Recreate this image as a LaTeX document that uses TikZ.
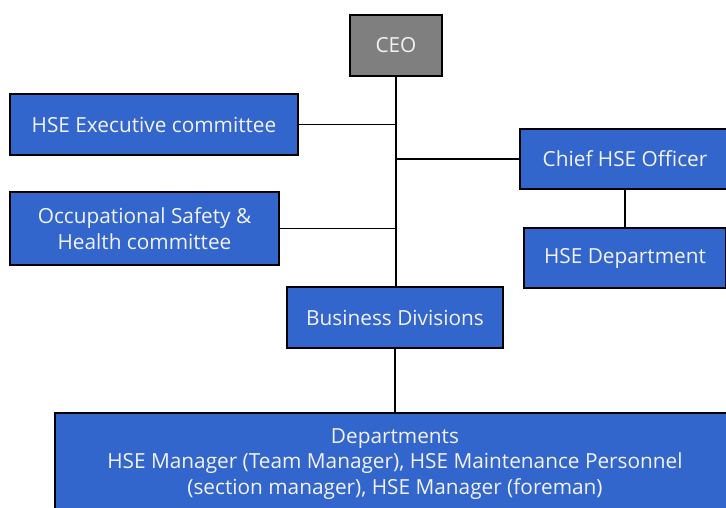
\documentclass[tikz,border=0pt]{standalone}
\usepackage{fontspec}
\setmainfont{Open Sans}
\definecolor{bleu}{HTML}{3366CC}
\definecolor{gris}{HTML}{7F7F7F}
\tikzset{cadre/.style = {draw = black, line width = 1.5pt, fill = bleu, text = white!95!black,
                         minimum width = #1, minimum height = 61pt, align = center,
                         inner sep = 0pt, font = \fontsize{20.8}{25.5}\selectfont},
         cadre/.default = 100pt,
         lien/.style = {line width = 1.2pt}
        }

\begin{document}
\begin{tikzpicture}[x = 1pt, y = -1pt]
  \useasboundingbox (0,0) rectangle (726,507);
  \node[cadre = 92pt, fill = gris] (ceo) at (396,45.5) {CEO};
  \node[cadre = 288pt] (exec) at (154,124.5) {HSE Executive committee};
  \node[cadre = 269pt, minimum height = 73pt] (osh) at (144.5,228.5)
       {Occupational Safety \&\\Health committee};
  \node[cadre = 210pt, minimum height = 60pt] (chief) at (625,159) {Chief HSE Officer};
  \node[cadre = 202pt, minimum height = 60pt] (dept) at (625,258) {HSE Department};
  \node[cadre = 216pt] (biz) at (395,317.5) {Business Divisions};
  \node[cadre = 680pt, minimum height = 102pt] (depts) at (395,464)
       {Departments\\HSE Manager (Team Manager), HSE Maintenance Personnel\\(section manager), HSE Manager (foreman)};

  \draw[lien] (ceo.south) -- (ceo.south |- biz.north);
  \draw[lien] (exec) -- (exec -| ceo);
  \draw[lien] (osh) -- (osh -| ceo);
  \draw[lien] (chief) -- (chief -| ceo);
  \draw[lien] (chief) -- (dept);
  \draw[lien] (biz) -- (depts);
\end{tikzpicture}
\end{document}
